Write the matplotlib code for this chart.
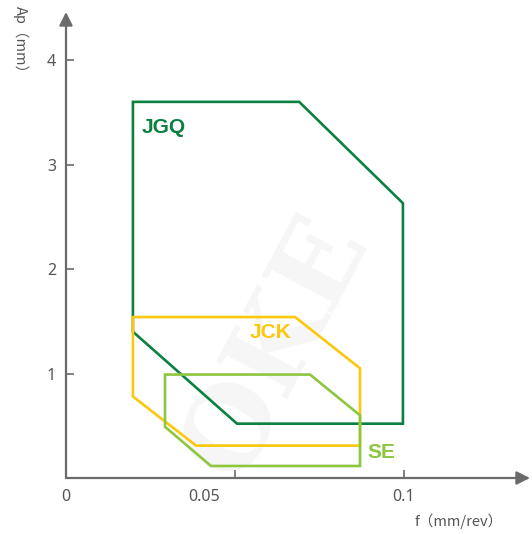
import matplotlib
matplotlib.use("Agg")
import matplotlib.pyplot as plt
import matplotlib.transforms as mtransforms

# feed rate f (mm/rev) and depth of cut Ap (mm) for each chipbreaker region
jgq_f = [0.0198, 0.0198, 0.069, 0.0997, 0.0997, 0.0506]
jgq_ap = [1.40, 3.60, 3.60, 2.63, 0.52, 0.52]

jck_f = [0.0198, 0.0198, 0.0678, 0.087, 0.087, 0.0385]
jck_ap = [0.78, 1.54, 1.54, 1.05, 0.31, 0.31]

se_f = [0.0293, 0.0293, 0.0722, 0.087, 0.087, 0.0429]
se_ap = [0.49, 0.99, 0.99, 0.60, 0.115, 0.115]

names = ["JGQ", "JCK", "SE"]
label_pos = [(0.0225, 3.35), (0.0542, 1.39), (0.0893, 0.24)]
colors = ["#0b8040", "#fcc80c", "#8dc63f"]

x_ticks = [0, 0.05, 0.1]
x_tick_labels = ["0", "0.05", "0.1"]
y_ticks = [1, 2, 3, 4]

plt.rcParams["font.family"] = ["Noto Sans", "DejaVu Sans"]
axis_gray = "#6b6b6b"
text_gray = "#555555"

fig = plt.figure(figsize=(5.32, 5.34), dpi=100)
ax = fig.add_axes([66 / 532, 56 / 534, 464 / 532, 466 / 534])
xmax, ymax = 0.1373, 4.46
ax.set_xlim(0, xmax)
ax.set_ylim(0, ymax)

# faint watermark
ax.text(0.062, 1.25, "OKE", fontsize=80, fontweight="bold", color="#f6f6f6",
        rotation=62, ha="center", va="center", zorder=0, family="DejaVu Serif")

for f, ap, c in zip([jgq_f, jck_f, se_f], [jgq_ap, jck_ap, se_ap], colors):
    ax.fill(f, ap, facecolor="none", edgecolor=c, lw=1.9, joinstyle="miter", zorder=3)

for name, (x, y), c in zip(names, label_pos, colors):
    ax.text(x, y, name, color=c, fontsize=15, fontweight="bold", ha="left", va="center",
            family="Liberation Sans", zorder=5)

for s in ax.spines.values():
    s.set_visible(False)

arrow = dict(arrowstyle="-|>", color=axis_gray, lw=1.6, mutation_scale=20, shrinkA=0, shrinkB=0)
ax.annotate("", xy=(xmax, 0), xytext=(0, 0), arrowprops=arrow, annotation_clip=False)
ax.annotate("", xy=(0, ymax), xytext=(0, 0), arrowprops=arrow, annotation_clip=False)

ax.set_xticks(x_ticks, x_tick_labels)
ax.set_yticks(y_ticks)
ax.tick_params(direction="in", length=6, width=1.2, color=axis_gray, labelcolor=text_gray,
               labelsize=11.5, pad=7)
ax.tick_params(axis="x", pad=8)
# the 0.05 label sits a bit left of its tick in the original
lbl = ax.get_xticklabels()[1]
lbl.set_transform(lbl.get_transform() + mtransforms.ScaledTranslation(-31 / 100, 0, fig.dpi_scale_trans))

fig.text(459 / 532, 1 - 521 / 534, "f（mm/rev）", fontsize=10.5, color=text_gray, ha="center", va="center",
         family=["Noto Sans CJK SC", "DejaVu Sans"])
fig.text(21 / 532, 1 - 43 / 534, "Ap（mm）", fontsize=10.5, color=text_gray, ha="center", va="center",
         rotation=270, family=["Noto Sans CJK SC", "DejaVu Sans"])

fig.savefig("out.png", dpi=100)
